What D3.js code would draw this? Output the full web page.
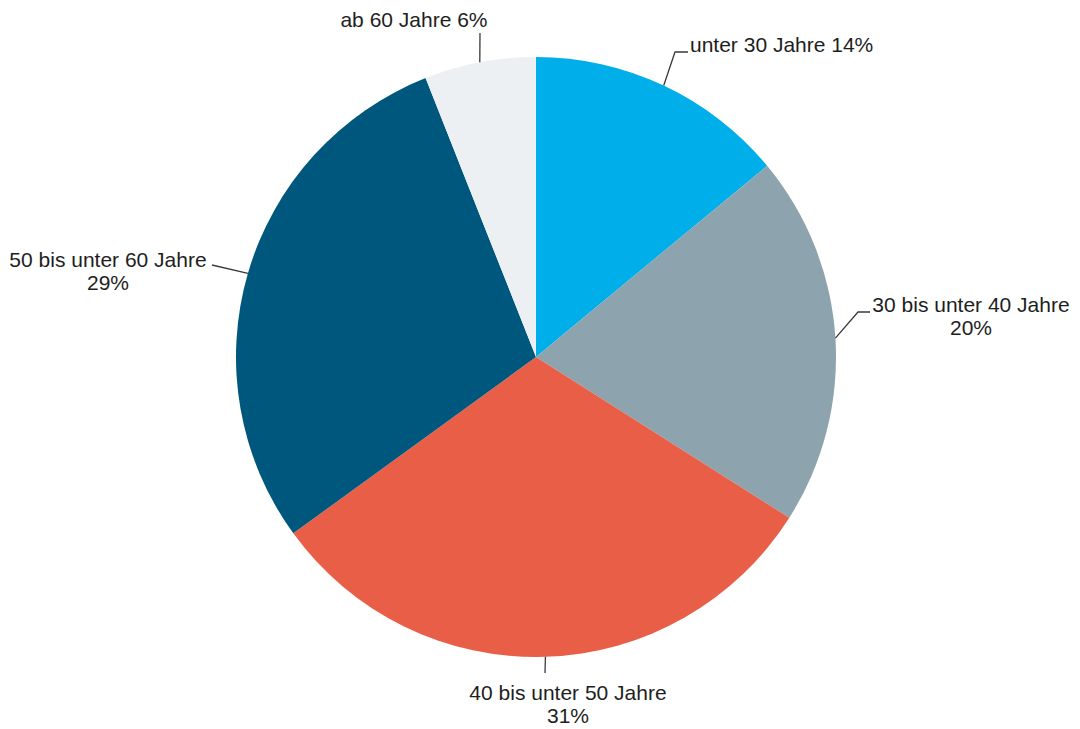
<!DOCTYPE html>
<html>
<head>
<meta charset="utf-8">
<script src="https://cdn.jsdelivr.net/npm/d3@7"></script>
<style>
  html, body { margin: 0; padding: 0; background: #fff; }
  svg { display: block; }
</style>
</head>
<body>
<div id="chart"></div>
<script>
// age groups, clockwise from 12 o'clock
const categories = ["unter 30 Jahre", "30 bis unter 40 Jahre", "40 bis unter 50 Jahre", "50 bis unter 60 Jahre", "ab 60 Jahre"];
const shares = [14, 20, 31, 29, 6];
const colors = ["#00aeea", "#8da3ae", "#e95e47", "#00577d", "#ecf0f3"];

// label placement: text anchor point, lines of text, leader bend points
const labelLayout = [
  { x: 690, y: 52, anchor: "start", oneLine: true, bends: [[675, 52], [688, 52]] },
  { x: 971, y: 312, anchor: "middle", oneLine: false, bends: [[858, 312], [870, 312]] },
  { x: 568, y: 700, anchor: "middle", oneLine: false, bends: [[545, 673]] },
  { x: 108, y: 267, anchor: "middle", oneLine: false, bends: [[212, 265]] },
  { x: 414, y: 27, anchor: "middle", oneLine: true, bends: [[480, 33]] }
];

const width = 1080, height = 729;
const cx = 536, cy = 357, radius = 300;

const svg = d3.select("#chart").append("svg")
    .attr("width", width)
    .attr("height", height)
    .attr("viewBox", `0 0 ${width} ${height}`);

const data = categories.map((c, i) => ({ name: c, value: shares[i], color: colors[i], layout: labelLayout[i] }));

const pie = d3.pie()
    .sort(null)
    .value(d => d.value);

const arcs = pie(data);

const arc = d3.arc()
    .innerRadius(0)
    .outerRadius(radius);

// zero-width ring on the rim, used to find where each leader starts
const rim = d3.arc()
    .innerRadius(radius)
    .outerRadius(radius);

const g = svg.append("g")
    .attr("transform", `translate(${cx},${cy})`);

g.selectAll("path.slice")
  .data(arcs)
  .join("path")
    .attr("class", "slice")
    .attr("fill", d => d.data.color)
    .attr("d", arc);

// leader lines
const line = d3.line();
svg.selectAll("path.leader")
  .data(arcs)
  .join("path")
    .attr("class", "leader")
    .attr("fill", "none")
    .attr("stroke", "#3a3a3a")
    .attr("stroke-width", 1.3)
    .attr("d", d => {
      const [ex, ey] = rim.centroid(d);
      return line([[cx + ex, cy + ey], ...d.data.layout.bends]);
    });

// labels
const labels = svg.selectAll("text.label")
  .data(arcs)
  .join("text")
    .attr("class", "label")
    .attr("x", d => d.data.layout.x)
    .attr("y", d => d.data.layout.y)
    .attr("text-anchor", d => d.data.layout.anchor)
    .attr("font-family", "'Liberation Sans', Arial, sans-serif")
    .attr("font-size", 21)
    .attr("fill", "#1e1e1e");

labels.each(function(d) {
  const t = d3.select(this);
  const L = d.data.layout;
  if (L.oneLine) {
    t.text(`${d.data.name} ${d.data.value}%`);
  } else {
    t.append("tspan").attr("x", L.x).text(d.data.name);
    t.append("tspan").attr("x", L.x).attr("dy", 23).text(`${d.data.value}%`);
  }
});
</script>
</body>
</html>
